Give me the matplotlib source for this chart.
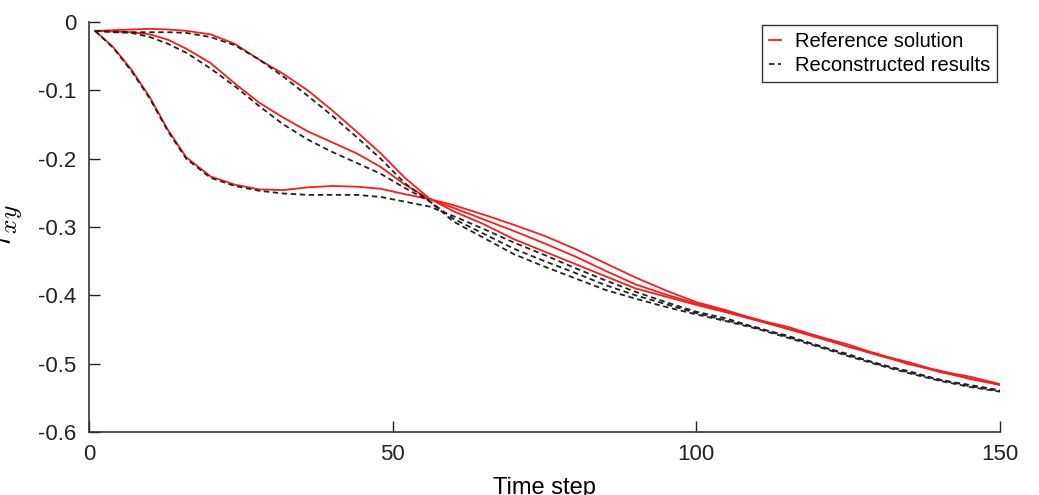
import matplotlib
matplotlib.use("Agg")
import matplotlib.pyplot as plt
from matplotlib.ticker import FuncFormatter

plt.rcParams["font.family"] = ["Liberation Sans", "DejaVu Sans"]
plt.rcParams["mathtext.fontset"] = "cm"

steps = [1, 4, 7, 10, 13, 16, 20, 24, 28, 32, 36, 40, 44, 48, 52, 56,
         60, 65, 70, 75, 80, 85, 90, 95, 100, 105, 110, 115, 120, 125,
         130, 135, 140, 145, 150]

# reference solution (red), three load cases
ref_a = [-0.013, -0.037, -0.070, -0.110, -0.158, -0.198, -0.226, -0.238,
         -0.245, -0.246, -0.242, -0.240, -0.241, -0.244, -0.252, -0.259,
         -0.268, -0.282, -0.297, -0.313, -0.332, -0.353, -0.374, -0.393,
         -0.410, -0.422, -0.436, -0.446, -0.460, -0.472, -0.487, -0.498,
         -0.511, -0.519, -0.530]
ref_b = [-0.013, -0.014, -0.015, -0.018, -0.026, -0.039, -0.060, -0.090,
         -0.118, -0.140, -0.160, -0.176, -0.192, -0.212, -0.238, -0.259,
         -0.272, -0.289, -0.306, -0.324, -0.343, -0.364, -0.384, -0.399,
         -0.412, -0.424, -0.435, -0.449, -0.460, -0.475, -0.486, -0.501,
         -0.510, -0.522, -0.531]
ref_c = [-0.013, -0.012, -0.011, -0.010, -0.011, -0.013, -0.018, -0.032,
         -0.055, -0.076, -0.100, -0.129, -0.160, -0.192, -0.228, -0.258,
         -0.277, -0.296, -0.318, -0.336, -0.354, -0.372, -0.390, -0.402,
         -0.414, -0.425, -0.437, -0.449, -0.462, -0.475, -0.488, -0.500,
         -0.512, -0.522, -0.531]

# reconstructed results (black dashed)
rec_a = [-0.013, -0.038, -0.072, -0.112, -0.160, -0.200, -0.228, -0.240,
         -0.247, -0.251, -0.253, -0.253, -0.253, -0.256, -0.263, -0.270,
         -0.284, -0.303, -0.323, -0.341, -0.360, -0.378, -0.395, -0.410,
         -0.424, -0.434, -0.448, -0.459, -0.474, -0.486, -0.501, -0.511,
         -0.524, -0.531, -0.539]
rec_b = [-0.013, -0.015, -0.016, -0.022, -0.032, -0.045, -0.068, -0.094,
         -0.123, -0.150, -0.172, -0.190, -0.206, -0.222, -0.243, -0.262,
         -0.288, -0.310, -0.332, -0.350, -0.367, -0.385, -0.400, -0.413,
         -0.426, -0.437, -0.447, -0.461, -0.473, -0.488, -0.500, -0.513,
         -0.523, -0.533, -0.540]
rec_c = [-0.013, -0.014, -0.015, -0.015, -0.015, -0.016, -0.022, -0.034,
         -0.055, -0.080, -0.108, -0.137, -0.168, -0.200, -0.236, -0.262,
         -0.292, -0.316, -0.340, -0.358, -0.375, -0.392, -0.405, -0.417,
         -0.428, -0.438, -0.449, -0.462, -0.475, -0.489, -0.502, -0.514,
         -0.525, -0.534, -0.541]

x_ticks = [0, 50, 100, 150]
y_ticks = [0, -0.1, -0.2, -0.3, -0.4, -0.5, -0.6]

fig = plt.figure(figsize=(10.39, 4.95), dpi=100)
ax = fig.add_axes([0.0857, 0.1273, 0.8768, 0.8283])

for i, ys in enumerate([ref_a, ref_b, ref_c]):
    ax.plot(steps, ys, color="#ff1a1a", linewidth=1.3,
            label="Reference solution" if i == 0 else None)
for i, ys in enumerate([rec_a, rec_b, rec_c]):
    ax.plot(steps, ys, color="#222222", linewidth=1.3, linestyle=(0, (3, 2)),
            label="Reconstructed results" if i == 0 else None)

ax.set_xlim(0, 150)
ax.set_ylim(-0.6, 0)
ax.set_xticks(x_ticks)
ax.set_yticks(y_ticks)
ax.yaxis.set_major_formatter(FuncFormatter(lambda v, p: "0" if v == 0 else f"{v:.1f}".replace("\u2212", "-")))
ax.tick_params(direction="in", length=8, width=1, labelsize=16, colors="#222222")
ax.tick_params(axis="x", pad=9)
ax.tick_params(axis="y", pad=9)
ax.spines["top"].set_visible(False)
ax.spines["right"].set_visible(False)
for s in ("left", "bottom"):
    ax.spines[s].set_color("#333333")
    ax.spines[s].set_linewidth(1.2)

ax.set_xlabel("Time step", fontsize=17)
ax.xaxis.set_label_coords(0.5, -0.11)
ax.set_ylabel(r"$\tau_{xy}$", fontsize=26)
ax.yaxis.set_label_coords(-0.07, 0.5)

leg = ax.legend(loc="upper right", bbox_to_anchor=(0.9967, 0.993), fontsize=14.5,
                handlelength=0.6, handletextpad=0.7, borderpad=0.35,
                borderaxespad=0, labelspacing=0.25, fancybox=False, framealpha=1)
leg.get_frame().set_edgecolor("#333333")
leg.get_frame().set_linewidth(1.0)

fig.savefig("out.png", dpi=100)
